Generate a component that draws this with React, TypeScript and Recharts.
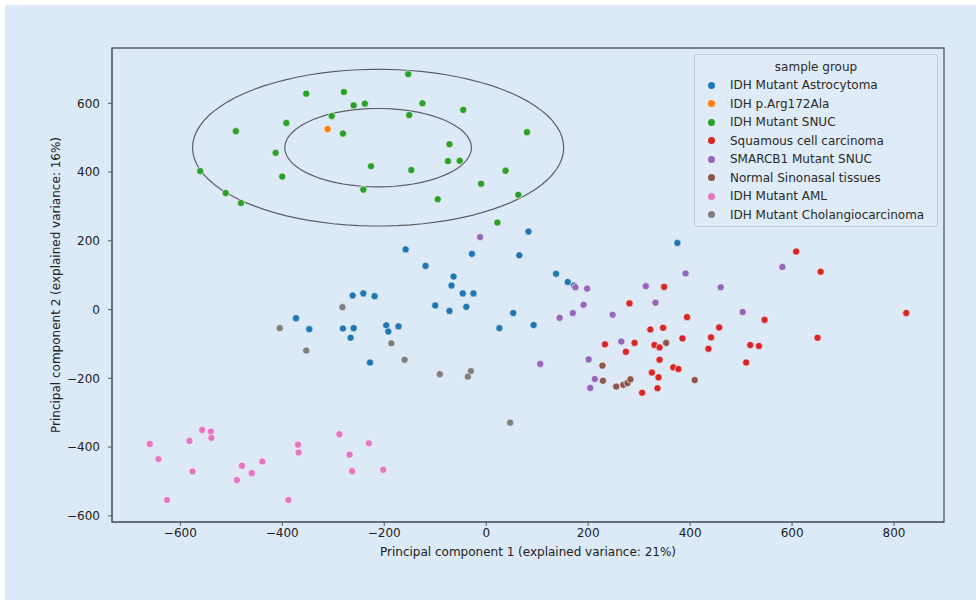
import React from "react"
import { ScatterChart, Scatter, XAxis, YAxis, ReferenceArea, Legend } from "recharts"

const groupNames = [
  "IDH Mutant Astrocytoma",
  "IDH p.Arg172Ala",
  "IDH Mutant SNUC",
  "Squamous cell carcinoma",
  "SMARCB1 Mutant SNUC",
  "Normal Sinonasal tissues",
  "IDH Mutant AML",
  "IDH Mutant Cholangiocarcinoma",
]
const groupColors = ["#1f77b4", "#ff7f0e", "#2ca02c", "#d62728", "#9467bd", "#8c564b", "#e377c2", "#7f7f7f"]

// [PC1, PC2] per sample
const astrocytoma = [
  [83, 227], [-158, 175], [-28, 162], [65, 158], [-119, 127], [137, 104], [-64, 96], [-68, 70],
  [160, 80], [172, 70], [-262, 41], [-241, 47], [-219, 39], [-46, 47], [-25, 47], [-100, 12],
  [-72, -4], [-39, 8], [-373, -25], [53, -10], [-347, -57], [-281, -55], [-260, -54], [-266, -82],
  [-196, -46], [-172, -49], [-192, -64], [26, -54], [93, -45], [-228, -154], [375, 194],
]
const arg172 = [[-311, 525]]
const snuc = [
  [-153, 685], [-353, 628], [-279, 633], [-260, 594], [-238, 599], [-125, 600], [-45, 581], [-303, 563],
  [-151, 566], [-392, 543], [-491, 519], [-281, 512], [80, 516], [-72, 481], [-413, 456], [-75, 432],
  [-52, 433], [-226, 417], [-147, 406], [38, 404], [-561, 403], [-400, 387], [-10, 366], [-241, 349],
  [-511, 339], [63, 334], [-95, 321], [-481, 310], [22, 253],
]
const squamous = [
  [608, 169], [656, 110], [349, 66], [281, 18], [824, -10], [394, -22], [546, -30], [322, -58],
  [347, -53], [457, -52], [441, -81], [385, -84], [650, -82], [233, -101], [291, -97], [330, -103],
  [340, -110], [518, -103], [535, -106], [436, -114], [274, -123], [340, -146], [510, -154], [367, -168],
  [377, -173], [325, -183], [338, -197], [336, -229], [306, -242],
]
const smarcb1 = [
  [-12, 211], [175, 65], [198, 61], [191, 14], [170, -10], [144, -24], [106, -158], [201, -145],
  [213, -202], [204, -228], [581, 124], [391, 105], [313, 68], [460, 65], [332, 20], [248, -15],
  [503, -7], [265, -93],
]
const sinonasal = [[353, -97], [228, -163], [229, -207], [255, -224], [269, -219], [277, -214], [283, -203], [409, -205]]
const aml = [
  [-660, -391], [-643, -435], [-626, -554], [-582, -382], [-576, -471], [-557, -350], [-540, -355], [-539, -373],
  [-479, -454], [-489, -496], [-460, -476], [-439, -442], [-388, -554], [-369, -393], [-368, -416], [-288, -363],
  [-268, -422], [-263, -470], [-230, -389], [-202, -466],
]
const cholangio = [[-282, 7], [-405, -54], [-353, -119], [-186, -98], [-160, -146], [-91, -188], [-30, -179], [-36, -195], [47, -329]]

const groups = [astrocytoma, arg172, snuc, squamous, smarcb1, sinonasal, aml, cholangio]

// confidence ellipses around the IDH Mutant SNUC cluster
const ellipseCenter = [-212, 471]
const ellipseRadii = [[364, 228], [183, 114]]

const xDomain = [-734, 898]
const yDomain = [-618, 761]
const xTicks = [-600, -400, -200, 0, 200, 400, 600, 800]
const yTicks = [-600, -400, -200, 0, 200, 400, 600]

const toPoints = (arr: number[][]) => arr.map(([x, y]) => ({ x, y }))

const ellipsePoints = (rx: number, ry: number) =>
  Array.from({ length: 91 }, (_, i) => {
    const t = (i / 90) * Math.PI * 2
    return { x: ellipseCenter[0] + rx * Math.cos(t), y: ellipseCenter[1] + ry * Math.sin(t) }
  })

const fmt = (v: number) => String(v).replace("-", "\u2212")

const dot = (color: string) => (props: any) =>
  <circle cx={props.cx} cy={props.cy} r={3.6} fill={color} stroke="#ffffff" strokeWidth={0.6} />

const bg = "#dce9f6"
const axisColor = "#555b62"

function LegendBox() {
  return (
    <div
      style={{
        width: 244,
        height: 173,
        boxSizing: "border-box",
        border: "1px solid #c3ccd6",
        borderRadius: 3,
        background: "#dfebf7",
        fontSize: 12,
        color: "#2a2a2a",
        paddingTop: 3,
      }}
    >
      <div style={{ textAlign: "center", lineHeight: "18px" }}>sample group</div>
      {groupNames.map((name, i) => (
        <div key={name} style={{ display: "flex", alignItems: "center", height: 18.5 }}>
          <span
            style={{
              display: "inline-block",
              width: 7,
              height: 7,
              borderRadius: "50%",
              background: groupColors[i],
              marginLeft: 13,
              marginRight: 15,
            }}
          />
          <span>{name}</span>
        </div>
      ))}
    </div>
  )
}

export default function App() {
  return (
    <div style={{ position: "absolute", left: 0, top: 0, width: 976, height: 602, background: "#ffffff", fontFamily: "DejaVu Sans" }}>
      <div style={{ position: "absolute", left: 5, top: 5, width: 971, height: 595, background: bg }} />
      <div style={{ position: "absolute", left: 0, top: 0 }}>
        <ScatterChart width={976} height={602} margin={{ top: 48, right: 32, bottom: 30, left: 0 }}>
          <XAxis
            type="number"
            dataKey="x"
            domain={xDomain}
            ticks={xTicks}
            allowDataOverflow
            tickFormatter={fmt}
            tickSize={4}
            tickMargin={2}
            height={50}
            stroke={axisColor}
            tick={{ fill: "#222", fontSize: 12 }}
            label={{ value: "Principal component 1 (explained variance: 21%)", position: "center", dy: 5, fill: "#222", fontSize: 12 }}
          />
          <YAxis
            type="number"
            dataKey="y"
            domain={yDomain}
            ticks={yTicks}
            allowDataOverflow
            tickFormatter={fmt}
            tickSize={4}
            tickMargin={8}
            width={112}
            stroke={axisColor}
            tick={{ fill: "#222", fontSize: 12 }}
            label={{ value: "Principal component 2 (explained variance: 16%)", position: "center", angle: -90, fill: "#222", fontSize: 12 }}
          />
          <ReferenceArea
            x1={xDomain[0]}
            x2={xDomain[1]}
            y1={yDomain[0]}
            y2={yDomain[1]}
            fill="none"
            fillOpacity={0}
            stroke={axisColor}
            strokeWidth={1.3}
          />
          {ellipseRadii.map(([rx, ry], i) => (
            <Scatter
              key={"ell" + i}
              data={ellipsePoints(rx, ry)}
              line={{ stroke: "#5c5f63", strokeWidth: 1.2 }}
              lineType="joint"
              shape={() => <g />}
              legendType="none"
              isAnimationActive={false}
            />
          ))}
          {groups.map((g, i) => (
            <Scatter
              key={groupNames[i]}
              name={groupNames[i]}
              data={toPoints(g)}
              fill={groupColors[i]}
              shape={dot(groupColors[i])}
              isAnimationActive={false}
            />
          ))}
          <Legend
            layout="vertical"
            align="center"
            verticalAlign="middle"
            content={() => <LegendBox />}
            wrapperStyle={{ top: 54, left: 694, width: 244, height: 173 }}
          />
        </ScatterChart>
      </div>
    </div>
  )
}
